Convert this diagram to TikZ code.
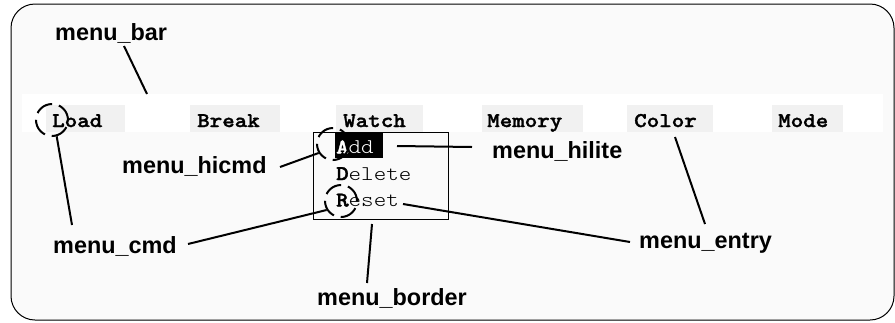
\documentclass[tikz,border=0pt]{standalone}
\usepackage{fontspec}
\setmainfont{Liberation Sans}
\newfontfamily\monof{lmmonolt10}[Extension=.otf, UprightFont=*-regular, BoldFont=*-bold, BoldFeatures={FakeBold=1.6}, FakeStretch=1.14]
\definecolor{bgc}{HTML}{FAFAFA}
\definecolor{cellc}{HTML}{F1F1F1}
\tikzset{
  mitem/.style={font=\monof\bfseries\fontsize{21}{21}\selectfont, inner sep=0pt, anchor=base west},
  ditem/.style={font=\monof\fontsize{21}{21}\selectfont, inner sep=0pt, anchor=base west},
  lab/.style={font=\bfseries\fontsize{23.5}{23.5}\selectfont, inner sep=0pt, anchor=base west},
  dcirc/.style={circle, draw, line width=2bp, minimum size=32bp, inner sep=0pt, dash pattern=on 18bp off 7bp},
  leader/.style={line width=2bp},
  cellbox/.style={fill=cellc}
}
\begin{document}
\begin{tikzpicture}[x=1bp,y=-1bp]
\useasboundingbox (0,0) rectangle (895,322);
\fill[white] (0,0) rectangle (895,322);
% outer frame
\draw[fill=bgc, line width=1bp, rounded corners=24bp] (11,4) rectangle (894,320);
% menu bar band
\fill[white] (22,94) rectangle (883,132);
\fill[cellbox] (46,105) rectangle (125,132);
\fill[cellbox] (190,105) rectangle (280,132);
\fill[cellbox] (336,105) rectangle (423,132);
\fill[cellbox] (482,105) rectangle (583,132);
\fill[cellbox] (627,105) rectangle (713,132);
\fill[cellbox] (772,105) rectangle (843,132);
% menu bar items
\node[mitem] (mLoad) at (52,127) {Load};
\node[mitem] (mBreak) at (197,127) {Break};
\node[mitem] (mWatch) at (343,127) {Watch};
\node[mitem] (mMemory) at (487,127) {Memory};
\node[mitem] (mColor) at (634,127) {Color};
\node[mitem] (mMode) at (778,127) {Mode};
% drop-down menu
\draw[fill=bgc, line width=0.9bp] (313,132) rectangle (448,219);
\fill[black] (335,133) rectangle (383,158);
\node[ditem, text=white] (dAdd) at (336,153.5) {\textbf{A}dd};
\node[ditem] (dDelete) at (336,180) {\textbf{D}elete};
\node[ditem] (dReset) at (336,206.5) {\textbf{R}eset};
% dashed circles
\node[dcirc] (cL) at (52,120) {};
\node[dcirc] (cA) at (333,144) {};
\node[dcirc] (cR) at (341,201) {};
% labels
\node[lab] (lbar) at (55,40) {menu\_bar};
\node[lab] (lhicmd) at (122,173) {menu\_hicmd};
\node[lab] (lhilite) at (492,158) {menu\_hilite};
\node[lab] (lcmd) at (53,253) {menu\_cmd};
\node[lab] (lentry) at (639,248) {menu\_entry};
\node[lab] (lborder) at (317,305) {menu\_border};
% leader end points
\coordinate (pbarA) at (124,46);
\coordinate (pbarB) at (147,94);
\coordinate (pcmdA) at (72,225);
\coordinate (pcmdB) at (188,244);
\coordinate (phicmd) at (280,167);
\coordinate (philA) at (397,146);
\coordinate (philB) at (472,147);
\coordinate (pcolor) at (675,137);
\coordinate (pentA) at (705,224);
\coordinate (preset) at (403,204);
\coordinate (pentB) at (630,242);
\coordinate (pbordA) at (372,224);
\coordinate (pbordB) at (367,283);
% leaders
\draw[leader] (pbarA) -- (pbarB);
\draw[leader] (cL.-74) -- (pcmdA);
\draw[leader] (pcmdB) -- (cR.212);
\draw[leader] (phicmd) -- (cA.212);
\draw[leader] (philA) -- (philB);
\draw[leader] (pcolor) -- (pentA);
\draw[leader] (preset) -- (pentB);
\draw[leader] (pbordA) -- (pbordB);
\end{tikzpicture}
\end{document}
